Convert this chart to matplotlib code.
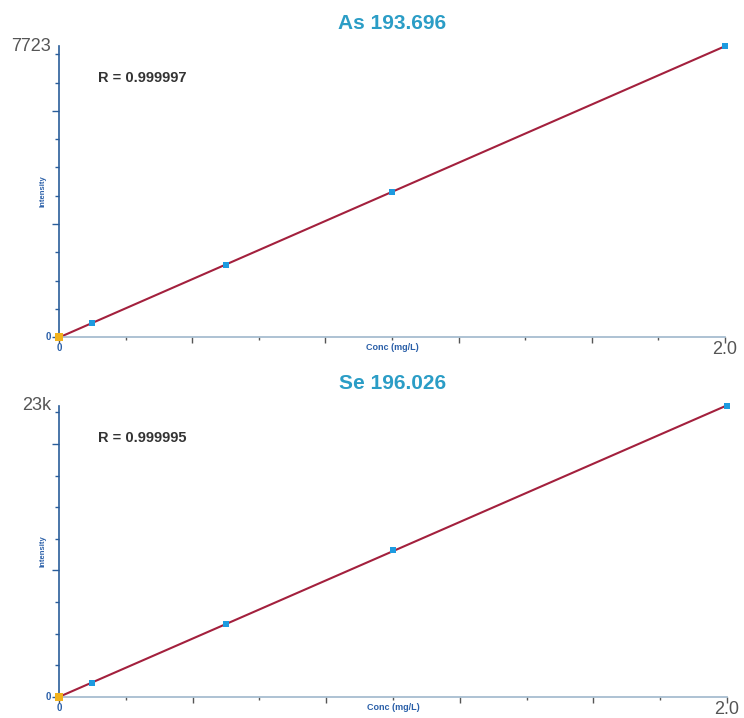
import matplotlib
matplotlib.use("Agg")
import matplotlib.pyplot as plt
from matplotlib.ticker import MultipleLocator, NullFormatter
import numpy as np

plt.rcParams['font.family'] = ['Liberation Sans', 'DejaVu Sans']

# calibration standards (mg/L) and measured intensities
conc = [0.0, 0.1, 0.5, 1.0, 2.0]
as_int = [0, 372, 1911, 3848, 7723]
se_int = [0, 1107, 5770, 11619, 23000]

titles = ["As 193.696", "Se 196.026"]
r_vals = ["R = 0.999997", "R = 0.999995"]
ytop = [7723, 23000]
ytop_lbl = ["7723", "23k"]
ystep = [750, 2500]

title_col = '#2b9dc6'
lbl_col = '#2a5fa8'
line_col = '#a3203d'
pt_col = '#1d9be0'
orig_col = '#f2b21c'

fig = plt.figure(figsize=(7.44, 7.18), dpi=100)
axes = [fig.add_axes([0.0793, 0.5306, 0.8952, 0.4053]),
        fig.add_axes([0.0793, 0.0293, 0.8978, 0.4053])]

for i, ax in enumerate(axes):
    y = [as_int, se_int][i]
    x = np.array(conc)
    # linear fit drawn over the full range
    k, b = np.polyfit(x, y, 1)
    xl = np.array([0.0, 2.0])
    ax.plot(xl, k * xl + b, color=line_col, lw=1.5, zorder=2, clip_on=False)
    ax.scatter(x[1:], y[1:], marker='s', s=22, color=pt_col, zorder=3,
               linewidths=0, clip_on=False)
    ax.scatter(x[:1], y[:1], marker='s', s=30, color=orig_col, zorder=4,
               linewidths=0, clip_on=False)

    ax.set_xlim(0, 2.0)
    ax.set_ylim(0, ytop[i])
    for s in ['top', 'right']:
        ax.spines[s].set_visible(False)
    ax.spines['left'].set_color('#2a5d9a')
    ax.spines['left'].set_linewidth(1.2)
    ax.spines['bottom'].set_color('#9fb8cc')
    ax.spines['bottom'].set_linewidth(1.2)

    # long ticks every 0.4 / 4 steps, short ticks in between
    ax.xaxis.set_major_locator(MultipleLocator(0.4))
    ax.xaxis.set_minor_locator(MultipleLocator(0.2))
    ax.yaxis.set_major_locator(MultipleLocator(ystep[i] * 4))
    ax.yaxis.set_minor_locator(MultipleLocator(ystep[i]))
    ax.xaxis.set_major_formatter(NullFormatter())
    ax.yaxis.set_major_formatter(NullFormatter())
    ax.tick_params(axis='x', which='major', length=4, width=1, color='#555555')
    ax.tick_params(axis='x', which='minor', length=2.5, width=1, color='#555555')
    ax.tick_params(axis='y', which='major', length=5, width=1, color='#2a5d9a')
    ax.tick_params(axis='y', which='minor', length=3, width=1, color='#2a5d9a')

    yt = ax.get_yaxis_transform()
    xt = ax.get_xaxis_transform()
    ax.text(-0.012, ytop[i], ytop_lbl[i], transform=yt, ha='right', va='center',
            fontsize=13, color='#555555')
    ax.text(-0.012, 0, "0", transform=yt, ha='right', va='center',
            fontsize=7, fontweight='bold', color=lbl_col)
    ax.text(0, -0.02, "0", transform=xt, ha='center', va='top',
            fontsize=7, fontweight='bold', color=lbl_col)
    ax.text(2.0, -0.013, "2.0", transform=xt, ha='center', va='top',
            fontsize=13, color='#555555')

    ax.text(0.5, -0.035, "Conc (mg/L)", transform=ax.transAxes, ha='center',
            va='center', fontsize=6.5, fontweight='bold', color=lbl_col)
    ax.text(-0.024, 0.5, "Intensity", transform=ax.transAxes, ha='center',
            va='center', rotation=90, fontsize=5.5, fontweight='bold', color=lbl_col)

    ax.text(0.5, 1.076, titles[i], transform=ax.transAxes, ha='center',
            va='center', fontsize=15, fontweight='bold', color=title_col)
    ax.text(0.0586, 0.89, r_vals[i], transform=ax.transAxes, ha='left',
            va='center', fontsize=10.5, fontweight='bold', color='#333333')

fig.savefig("out.png", dpi=100)
